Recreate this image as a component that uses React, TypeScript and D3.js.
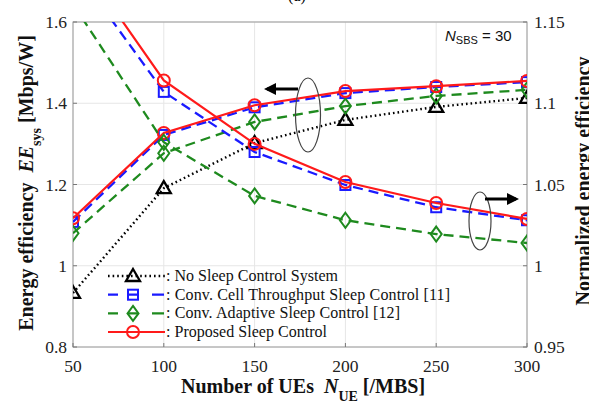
import React from "react";
import * as d3 from "d3";

const ueCounts = [50, 100, 150, 200, 250, 300];
const noSleepEE = [0.933, 1.191, 1.302, 1.359, 1.391, 1.413];
const cellThroughputEE = [1.108, 1.322, 1.39, 1.425, 1.44, 1.452];
const adaptiveEE = [1.08, 1.277, 1.354, 1.393, 1.418, 1.433];
const proposedEE = [1.117, 1.327, 1.395, 1.43, 1.442, 1.455];
const cellThroughputNorm = [1.184, 1.107, 1.07, 1.0497, 1.036, 1.028];
const adaptiveNorm = [1.161, 1.076, 1.043, 1.028, 1.0195, 1.014];
const proposedNorm = [1.194, 1.114, 1.075, 1.0515, 1.0386, 1.0288];

const xTicks = [50, 100, 150, 200, 250, 300];
const yLeftTicks = [0.8, 1, 1.2, 1.4, 1.6];
const yRightTicks = [0.95, 1, 1.05, 1.1, 1.15];
const legendLabels = [
  "No Sleep Control System",
  "Conv. Cell Throughput Sleep Control [11]",
  "Conv. Adaptive Sleep Control [12]",
  "Proposed Sleep Control",
];

const W = 589, H = 401;
const L = 73, R = 527, T = 22, B = 347;
const FONT = "'Liberation Serif', 'Times New Roman', serif";
const SANS = "'Liberation Sans', Arial, sans-serif";

const x = d3.scaleLinear().domain([50, 300]).range([L, R]);
const yL = d3.scaleLinear().domain([0.8, 1.6]).range([B, T]);
const yR = d3.scaleLinear().domain([0.95, 1.15]).range([B, T]);

type Style = { color: string; dash: string; legendDash: string; width: number; marker: string };
const styles: Style[] = [
  { color: "#000000", dash: "1.6 3", legendDash: "1.6 3", width: 2.4, marker: "tri" },
  { color: "#1a1aff", dash: "10 6", legendDash: "10 10 10 14 12", width: 2.3, marker: "sq" },
  { color: "#1e8a1e", dash: "10 6", legendDash: "10 10 10 14 12", width: 2.3, marker: "dia" },
  { color: "#ff1a1a", dash: "", legendDash: "", width: 2.2, marker: "circ" },
];
const legendTextLengths = [172, 284, 234, 161];

function Marker({ kind, cx, cy, color }: { kind: string; cx: number; cy: number; color: string }) {
  if (kind === "tri")
    return <path d={`M${cx},${cy - 7} L${cx + 7},${cy + 5} L${cx - 7},${cy + 5} Z`} fill="none" stroke={color} strokeWidth={2.3} />;
  if (kind === "sq")
    return <rect x={cx - 5} y={cy - 5} width={10} height={10} fill="none" stroke={color} strokeWidth={2} />;
  if (kind === "dia")
    return <path d={`M${cx},${cy - 7.5} L${cx + 5.5},${cy} L${cx},${cy + 7.5} L${cx - 5.5},${cy} Z`} fill="none" stroke={color} strokeWidth={2} />;
  return <circle cx={cx} cy={cy} r={6} fill="none" stroke={color} strokeWidth={2} />;
}

function Series({ vals, scale, st }: { vals: number[]; scale: d3.ScaleLinear<number, number>; st: Style }) {
  const line = d3.line<number>().x((_, i) => x(ueCounts[i])).y((v) => scale(v));
  return (
    <g clipPath="url(#plotclip)">
      <path d={line(vals) || ""} fill="none" stroke={st.color} strokeWidth={st.width} strokeDasharray={st.dash || undefined} />
      {vals.map((v, i) => (
        <Marker key={i} kind={st.marker} cx={x(ueCounts[i])} cy={scale(v)} color={st.color} />
      ))}
    </g>
  );
}

export default function App() {
  const leftSeries = [noSleepEE, cellThroughputEE, adaptiveEE, proposedEE];
  const rightSeries: [number[], number][] = [
    [cellThroughputNorm, 1],
    [adaptiveNorm, 2],
    [proposedNorm, 3],
  ];
  const legendY = [276, 294.7, 313.4, 332];
  return (
    <svg width={W} height={H} style={{ position: "absolute", left: 0, top: 0, background: "#fff" }} fontFamily={FONT}>
      <defs>
        <clipPath id="plotclip">
          <rect x={L} y={T} width={R - L} height={B - T} />
        </clipPath>
        <marker id="arrowhead" markerWidth="4" markerHeight="4" refX="3" refY="2" orient="auto" markerUnits="strokeWidth">
          <path d="M0,0 L4,2 L0,4 Z" fill="#000" />
        </marker>
      </defs>
      <rect x={0} y={0} width={W} height={H} fill="#fff" />
      <text x={297} y={1} textAnchor="middle" fontSize={16}>(a)</text>
      {/* grid */}
      {xTicks.map((t) => (
        <line key={"gx" + t} x1={x(t)} x2={x(t)} y1={T} y2={B} stroke="#e6e6e6" strokeWidth={1} />
      ))}
      {yLeftTicks.map((t) => (
        <line key={"gy" + t} x1={L} x2={R} y1={yL(t)} y2={yL(t)} stroke="#e6e6e6" strokeWidth={1} />
      ))}
      {/* frame */}
      <rect x={L} y={T} width={R - L} height={B - T} fill="none" stroke="#9a9a9a" strokeWidth={1} />
      {xTicks.map((t) => (
        <g key={"xt" + t}>
          <line x1={x(t)} x2={x(t)} y1={B} y2={B - 4} stroke="#777" />
          <text x={x(t)} y={372} textAnchor="middle" fontSize={17.5} fill="#222">{t}</text>
        </g>
      ))}
      {yLeftTicks.map((t) => (
        <g key={"yl" + t}>
          <line x1={L} x2={L + 4} y1={yL(t)} y2={yL(t)} stroke="#777" />
          <text x={67} y={yL(t) + 6} textAnchor="end" fontSize={17.5} fill="#222">{d3.format("~g")(t)}</text>
        </g>
      ))}
      {yRightTicks.map((t) => (
        <g key={"yr" + t}>
          <line x1={R} x2={R - 4} y1={yR(t)} y2={yR(t)} stroke="#777" />
          <text x={534} y={yR(t) + 6} textAnchor="start" fontSize={17.5} fill="#222">{d3.format("~g")(t)}</text>
        </g>
      ))}
      {/* series */}
      {leftSeries.map((vals, i) => (
        <Series key={"l" + i} vals={vals} scale={yL} st={styles[i]} />
      ))}
      {rightSeries.map(([vals, si], i) => (
        <Series key={"r" + i} vals={vals} scale={yR} st={styles[si]} />
      ))}
      {/* annotations */}
      <ellipse cx={308} cy={115} rx={12.5} ry={37} fill="none" stroke="#444" strokeWidth={1.2} />
      <line x1={298} y1={89} x2={267} y2={89} stroke="#000" strokeWidth={3} markerEnd="url(#arrowhead)" />
      <ellipse cx={480} cy={221} rx={11} ry={29} fill="none" stroke="#444" strokeWidth={1.2} />
      <line x1={485} y1={199} x2={516} y2={199} stroke="#000" strokeWidth={3} markerEnd="url(#arrowhead)" />
      <text x={445} y={41} fontSize={15} fontFamily={SANS} fill="#111">
        <tspan fontStyle="italic">N</tspan>
        <tspan fontSize={11} dy={3}>SBS</tspan>
        <tspan dy={-3}> = 30</tspan>
      </text>
      {/* legend */}
      {legendLabels.map((lab, i) => {
        const st = styles[i];
        const yy = legendY[i];
        return (
          <g key={"lg" + i}>
            <line x1={108} x2={165} y1={yy} y2={yy} stroke={st.color} strokeWidth={st.width} strokeDasharray={st.legendDash || undefined} />
            <Marker kind={st.marker} cx={133} cy={yy} color={st.color} />
            <text x={166} y={yy + 5} fontSize={16} fill="#111" textLength={legendTextLengths[i]} lengthAdjust="spacing">: {lab}</text>
          </g>
        );
      })}
      {/* axis titles */}
      <text x={303} y={393} textAnchor="middle" fontSize={20} fontWeight="bold" fill="#111">
        Number of UEs{"\u00a0\u00a0"}
        <tspan fontStyle="italic">N</tspan>
        <tspan fontSize={14} dy={8}>UE</tspan>
        <tspan dy={-8}>{"\u00a0"}[/MBS]</tspan>
      </text>
      <text transform={`translate(33,${183}) rotate(-90)`} textAnchor="middle" fontSize={20} fontWeight="bold" fill="#111">
        Energy efficiency{"\u00a0\u00a0"}
        <tspan fontStyle="italic">EE</tspan>
        <tspan fontSize={14} dy={8}>sys</tspan>
        <tspan dy={-8}>{"\u00a0"}[Mbps/W]</tspan>
      </text>
      <text transform={`translate(590,${181}) rotate(-90)`} textAnchor="middle" fontSize={20} fontWeight="bold" fill="#111">
        Normalized energy efficiency
      </text>
    </svg>
  );
}
